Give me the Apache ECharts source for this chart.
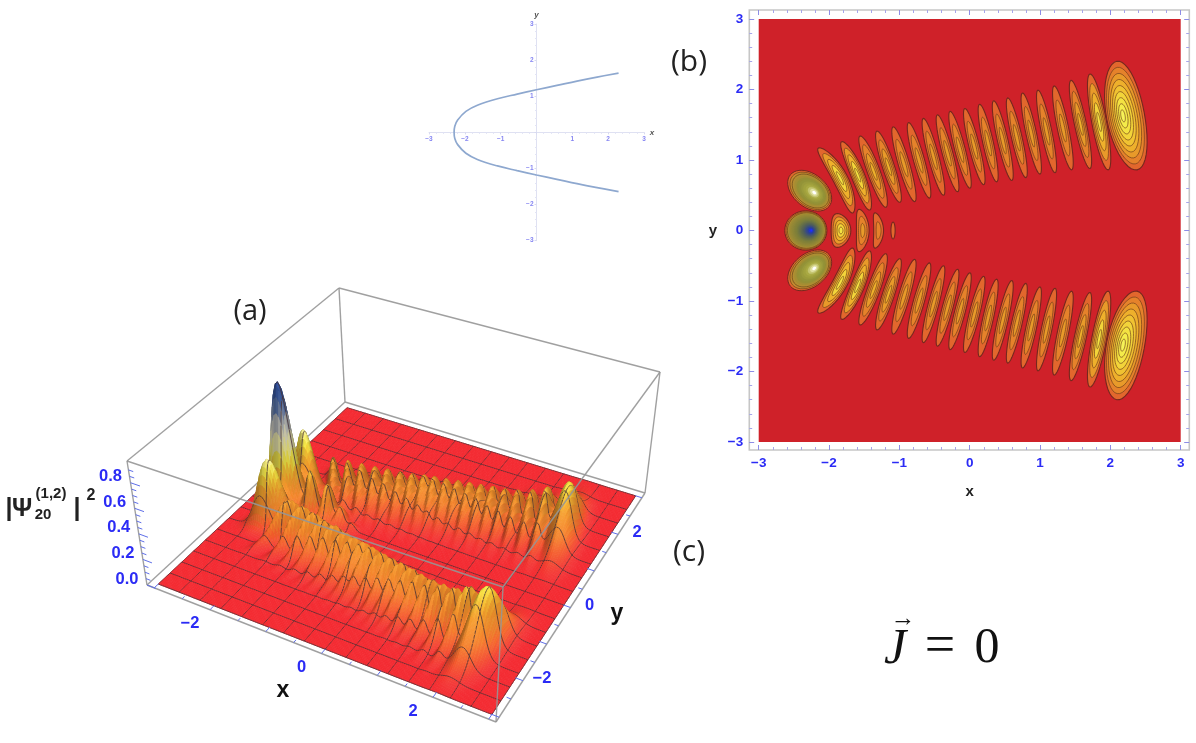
<!DOCTYPE html>
<html><head><meta charset="utf-8">
<style>html,body{margin:0;padding:0;background:#fff}#c{width:1196px;height:743px;filter:blur(.4px)}</style>
<script src="https://cdn.jsdelivr.net/npm/echarts@6/dist/echarts.min.js"></script></head>
<body><div id="c"></div>
<script>
/* ---- values: each lobe of the density, in x / y units ---- */
const lobeX0  = [-2.15,-1.82,-1.56,-1.32,-1.09,-.87,-.66,-.46,-.28,-.07,.14,.34,.54,.75,.97,1.20,1.44,1.71,2.09, -2.55, -1.88,-1.57,-1.345,-1.09,-2.33];
const lobeY0  = [1.17,1.26,1.34,1.41,1.47,1.53,1.59,1.64,1.69,1.73,1.79,1.84,1.88,1.95,1.99,2.05,2.13,2.22,2.40, .79, .24,.30,.25,.12,.28];
const lobeX1  = [-1.66,-1.42,-1.19,-.99,-.78,-.57,-.37,-.17,.005,.20,.385,.60,.80,1.00,1.215,1.45,1.71,1.97,2.38, -2.00, -1.88,-1.57,-1.345,-1.09,-2.33];
const lobeY1  = [.25,.29,.33,.40,.41,.46,.50,.55,.60,.65,.69,.71,.75,.80,.82,.86,.88,.86,.86, .34, -.24,-.30,-.25,-.12,-.28];
const lobeW   = [.105,.095,.09,.085,.08,.078,.075,.075,.075,.075,.075,.075,.075,.075,.075,.08,.085,.105,.27, .235, .14,.09,.07,.03,.30];
const lobeH   = [.30,.30,.29,.28,.28,.27,.27,.27,.27,.27,.27,.27,.27,.27,.27,.28,.30,.34,.42, .52, .36,.30,.15,.05,1.02];
const lobeN   = [5,5,4,4,3,3,3,3,3,3,3,3,3,3,3,3,4,5,9, 12, 5,3,2,1,20];
const lobeBend= [.07,.03,.01,0,0,0,0,0,0,0,0,0,0,0,0,0,0,0,-.02, 0, .05,.05,.05,0,0];
const lobeTone= [0,0,0,0,0,0,0,0,0,0,0,0,0,0,0,0,0,0,0, 1, 0,0,0,0,2];
const lobeFx  = [0,0,0,0,0,0,0,0,0,0,0,0,0,0,0,0,0,0,-.04, .07, 0,0,0,0,.08];
const lobeFy  = [0,0,0,0,0,0,0,0,0,0,0,0,0,0,0,0,0,0,0, -.03, 0,0,0,0,0];
/* parabola of panel (c), upper branch, x then y */
const curveX = [2.29,1.69,1.13,.57,0,-.54,-1.09,-1.65,-1.97,-2.2,-2.28,-2.3];
const curveY = [1.64,1.53,1.42,1.30,1.18,1.06,.93,.75,.58,.34,.17,0];
/* tick labels of the 3-D box */
const xyTickLabels = [-2,0,2];
const zTickLabels  = [0,.2,.4,.6,.8];

const bandColors=['#e2672d','#e5822b','#e89a2a','#eeb02c','#f0c232','#f2d43a','#f3e242','#f4ec4a','#f6f258'];
const centerStops=[[0,'#e2672d'],[.06,'#c98a30'],[.14,'#a08c34'],[.45,'#7c7f3a'],[.72,'#4f5f5a'],[.9,'#2a3fa0'],[1,'#2030ff']];
const sideStops=[[0,'#e2672d'],[.1,'#c08c30'],[.4,'#8f8f36'],[.72,'#a8a840'],[.9,'#dcdc98'],[1,'#ffffff']];
const surfStops=[[0,'#f42b32'],[.06,'#f4522c'],[.15,'#f5822c'],[.28,'#f6a02e'],[.36,'#f8c836'],[.42,'#fbee48'],[.53,'#f9f4a8'],[.63,'#e2dfce'],[.73,'#a8aeb8'],[.85,'#4f6fae'],[1,'#2a4b9c'],[1.1,'#1a2f80']];
function hex(c){return [1,3,5].map(i=>parseInt(c.substr(i,2),16));}
function ramp(st,t){
  if(t<=st[0][0])return hex(st[0][1]);
  for(let i=1;i<st.length;i++)if(t<=st[i][0]){
    const a=hex(st[i-1][1]),b=hex(st[i][1]),f=(t-st[i-1][0])/(st[i][0]-st[i-1][0]);
    return a.map((v,k)=>v+(b[k]-v)*f);}
  return hex(st[st.length-1][1]);
}
const css=c=>'rgb('+c.map(v=>Math.max(0,Math.min(255,Math.round(v)))).join(',')+')';

/* lobe geometry */
const lobes=lobeX0.map((_,i)=>{
  const dx=lobeX1[i]-lobeX0[i],dy=lobeY1[i]-lobeY0[i],L=Math.hypot(dx,dy);
  return {cx:(lobeX0[i]+lobeX1[i])/2,cy:(lobeY0[i]+lobeY1[i])/2,hl:L/2,ax:dx/L,ay:dy/L,px:-dy/L,py:dx/L,
          hw:lobeW[i],h:lobeH[i],n:lobeN[i],bend:lobeBend[i],tone:lobeTone[i],fx:lobeFx[i],fy:lobeFy[i],
          onAxis:Math.abs(lobeY0[i]+lobeY1[i])<1e-6};
});
/* contour rings, lowest level first */
const rings=[];
lobes.forEach((l,i)=>{for(let k=0;k<l.n;k++){rings.push([i,k,1]); if(!l.onAxis)rings.push([i,k,-1]);}});
rings.sort((a,b)=>a[1]-b[1]);
function ringStyle(l,k){
  if(l.tone===0){const idx=l.n===5?Math.round(k*1.6):k;
    return {fill:bandColors[Math.min(idx,8)],stroke:k===0?'#75281e':'rgba(110,60,25,.75)',lineWidth:k===0?1.1:.9};}
  const c=css(ramp(l.tone===2?centerStops:sideStops,k/(l.n-1)));
  return {fill:c,stroke:k<3?(k===0?'#75281e':'rgba(90,60,20,.6)'):c,lineWidth:k<3?1:.2};
}
function renderRing(p,api){
  const l=lobes[api.value(0)],k=api.value(1),sg=api.value(2),pts=[];
  const s=1-k/l.n,mv=1-s;
  for(let a=0;a<44;a++){
    const th=a/44*2*Math.PI,t=Math.cos(th)*s,d=Math.sin(th)*s*l.hw;
    const off=d+l.bend*(1-t*t),al=t*l.hl;
    pts.push(api.coord([l.cx+l.fx*mv+l.ax*al+l.px*off,sg*(l.cy+l.fy*mv+l.ay*al+l.py*off)]));
  }
  return {type:'polygon',shape:{points:pts},style:ringStyle(l,k)};
}

/* ---- 3-D box projection ---- */
const R=3.13,ZT=.97;
const BOT=[[147,585],[496,722],[645,493],[345,402]],TOP=[[127,461],[503,587],[660,372],[339,288]];
function bil(q,u,v,k){return (1-v)*((1-u)*q[0][k]+u*q[1][k])+v*((1-u)*q[3][k]+u*q[2][k]);}
function proj(x,y,z){
  const u=(x+R)/(2*R),v=(y+R)/(2*R),w=z/ZT;
  return [0,1].map(k=>(1-w)*bil(BOT,u,v,k)+w*bil(TOP,u,v,k));
}
/* surface points: nearer rows rise a little more, as in the perspective view */
function projS(x,y,z){const v=(y+R)/(2*R);return proj(x,y,z*(1.16-.32*v));}
function height(x,y){
  let f=0;
  for(const l of lobes){
    const sy=l.onAxis?[1]:[1,-1];
    for(const s of sy){
      const rx=x-l.cx,ry=s*y-l.cy,al=rx*l.ax+ry*l.ay;
      if(Math.abs(al)>l.hl*3)continue;
      const t=al/l.hl,d=rx*l.px+ry*l.py-l.bend*(1-Math.min(t*t,1));
      const sa=l.hl*.55,sb=Math.max(.065,l.hw*.55);
      f+=l.h*Math.exp(-(al*al)/(2*sa*sa)-(d*d)/(2*sb*sb));
    }
  }
  return f;
}
const N=160,ST=6/N,Z=[];
for(let j=0;j<=N+2;j++){Z.push([]);for(let i=0;i<=N+2;i++)Z[j].push(height(-3+(i-1)*ST,-3+(j-1)*ST));}
const quads=[];
const Lg=[.42,-.28,.86],Lz=Lg[2];
for(let j=N-1;j>=0;j--)for(let i=0;i<N;i++){
  const zz=(a,b)=>Z[b+1][a+1];
  const x=-3+i*ST,y=-3+j*ST;
  const pts=[projS(x,y,zz(i,j)),projS(x+ST,y,zz(i+1,j)),projS(x+ST,y+ST,zz(i+1,j+1)),projS(x,y+ST,zz(i,j+1))];
  const zc=(zz(i,j)+zz(i+1,j)+zz(i+1,j+1)+zz(i,j+1))/4;
  const K=1.3,gx=K*(zz(i+1,j)+zz(i+1,j+1)-zz(i,j)-zz(i,j+1))/(2*ST),gy=K*(zz(i,j+1)+zz(i+1,j+1)-zz(i,j)-zz(i+1,j))/(2*ST);
  const nl=Math.hypot(gx,gy,1),dot=(-gx*Lg[0]-gy*Lg[1]+Lg[2])/nl;
  const sh=Math.max(.55,Math.min(1.04,dot/Lz));
  const base=ramp(surfStops,zc);
  const col=css(sh<=1?base.map(v=>v*(.3+.7*sh)):base.map(v=>v+(255-v)*(sh-1)));
  const m=[];
  if((j+1)%10===0)m.push([pts[3],pts[2]]);
  if(j===0)m.push([pts[0],pts[1]]);
  if(i%10===0)m.push([pts[0],pts[3]]);
  if(i===N-1)m.push([pts[1],pts[2]]);
  quads.push({pts,col,m});
}
function renderQuad(p){
  const q=quads[p.dataIndex];
  const poly={type:'polygon',shape:{points:q.pts},style:{fill:q.col,stroke:q.col,lineWidth:.7}};
  if(!q.m.length)return poly;
  return {type:'group',children:[poly].concat(q.m.map(s=>({type:'polyline',shape:{points:s},style:{fill:null,stroke:'rgba(70,50,54,.8)',lineWidth:1}})))};
}
/* box edges */
const BOXC={a:[-R,-R,0],b:[R,-R,0],c:[R,R,0],d:[-R,R,0],A:[-R,-R,ZT],B:[R,-R,ZT],C:[R,R,ZT],D:[-R,R,ZT]};
const backEdges=['ad','dc','dD','aA','AD','DC','cC'];
const frontEdges=['ab','bc','bB','AB','BC'];
function edgeSeries(list,z){
  return {type:'custom',coordinateSystem:'none',silent:true,z:z,data:list.map((e,i)=>[i]),
    renderItem(p){const e=list[p.dataIndex];
      return {type:'line',shape:{x1:proj(...BOXC[e[0]])[0],y1:proj(...BOXC[e[0]])[1],x2:proj(...BOXC[e[1]])[0],y2:proj(...BOXC[e[1]])[1]},
        style:{stroke:'rgba(150,150,150,.9)',lineWidth:1.4}};}};
}
/* ticks of the box */
const tks=[];
for(let k=-6;k<=6;k++){const v=k/2,maj=k%2===0,len=maj?.14:.08;
  tks.push([proj(v,-R,0),proj(v,-R+len,0)]);tks.push([proj(R,v,0),proj(R-len,v,0)]);}
for(let k=0;k<=18;k++){const v=k*.05,len=k%4===0?.16:.08;tks.push([proj(-R,-R,v),proj(-R+len,-R,v)]);}
const boxLabels=[];
xyTickLabels.forEach(v=>{
  const a=proj(v,-R,0);boxLabels.push([a[0]-20,a[1]+14,String(v).replace('-','\u2212')]);
  const b=proj(R,v,0);boxLabels.push([b[0]+19,b[1]-2,String(v).replace('-','\u2212')]);
});
zTickLabels.forEach(v=>{const a=proj(-R,-R,v);boxLabels.push([a[0]-20,a[1]-6,v.toFixed(1)]);});

const minus=v=>String(v).replace('-','\u2212');
const BLUE='#2b2bf5';
function axisB(idx,pos,off,labels,extra){
  return Object.assign({type:'value',gridIndex:0,position:pos,offset:off,min:-3,max:3,interval:1,
    axisLine:{show:false,onZero:false},
    axisTick:{show:true,inside:true,length:5,lineStyle:{color:'#8d8de6',width:1}},
    minorTick:{show:true,splitNumber:5,length:3,lineStyle:{color:'#a6a6ea',width:1}},
    splitLine:{show:false},minorSplitLine:{show:false},
    axisLabel:{show:labels,color:BLUE,fontWeight:'bold',fontSize:13.5,fontFamily:'Liberation Sans',margin:6,formatter:minus}},extra||{});
}
function axisC(name,pos,off){
  return {type:'value',gridIndex:2,min:-3,max:3,interval:1,name:name,nameLocation:'end',position:pos,offset:off,
    nameTextStyle:{color:'#555',fontStyle:'italic',fontSize:8,fontWeight:'bold'},nameGap:5,
    axisLine:{show:true,onZero:false,lineStyle:{color:'#dfe1f2',width:1}},
    axisTick:{show:true,length:2,lineStyle:{color:'#d8daf0'}},
    minorTick:{show:true,splitNumber:5,length:1.5,lineStyle:{color:'#e2e4f5'}},
    splitLine:{show:false},minorSplitLine:{show:false},
    axisLabel:{color:'#8686f2',fontSize:6.5,fontWeight:'bold',margin:3,fontFamily:'Liberation Sans',
      formatter:v=>v===0?'':minus(v)}};
}
const upper=curveX.map((x,i)=>[x,curveY[i]]);
const lower=curveX.slice(0,-1).reverse().map((x,i)=>[x,-curveY[curveX.length-2-i]]);
const texts=[
 ['(a)',250,312,29,'normal','normal','Open Sans','#222'],
 ['(b)',689,62,30,'normal','normal','Open Sans','#222'],
 ['(c)',689,552,30,'normal','normal','Open Sans','#222'],
 ['x',283,691,23,'bold','normal','Liberation Sans','#111'],
 ['y',617,614,23,'bold','normal','Liberation Sans','#111'],
 ['|',9,509,25,'bold','normal','Liberation Sans','#222'],
 ['\u03A8',22,509,25,'bold','normal','Liberation Sans','#222'],
 ['(1,2)',51,494,15,'bold','normal','Liberation Sans','#222'],
 ['20',43,515,15,'bold','normal','Liberation Sans','#222'],
 ['|',77,509,25,'bold','normal','Liberation Sans','#222'],
 ['2',91,496,16,'bold','normal','Liberation Sans','#222'],
 ['J',895,650,50,'normal','italic','Liberation Serif','#111'],
 ['\u2192',903,619,25,'normal','normal','Liberation Serif','#111'],
 ['=',940,648,54,'normal','normal','Liberation Serif','#111'],
 ['0',987,649,50,'normal','normal','Liberation Serif','#111']
];
const option={
  animation:false,backgroundColor:'#fff',
  grid:[
    {left:758.7,top:19,width:422,height:423,show:true,backgroundColor:'#cf2129',borderWidth:0},
    {left:749.3,top:10,width:440,height:440,show:true,backgroundColor:'transparent',borderColor:'#c6c6c6',borderWidth:1.6},
    {left:429,top:24,width:215,height:216.7}
  ],
  xAxis:[
    axisB(0,'bottom',8,true,{name:'x',nameLocation:'middle',nameGap:34,nameTextStyle:{color:'#222',fontWeight:'bold',fontSize:15,fontFamily:'Liberation Sans'}}),
    axisB(1,'top',9,false),
    {type:'value',gridIndex:1,show:false,min:0,max:1},
    axisC('x','bottom',-108.3)
  ],
  yAxis:[
    axisB(0,'left',9.5,true,{name:'y',nameLocation:'middle',nameGap:32,nameRotate:0,nameTextStyle:{color:'#222',fontWeight:'bold',fontSize:15,fontFamily:'Liberation Sans'}}),
    axisB(1,'right',8.5,false),
    {type:'value',gridIndex:1,show:false,min:0,max:1},
    axisC('y','left',-107.5)
  ],
  graphic:{elements:texts.map(t=>({type:'text',x:t[1],y:t[2],z:50,silent:true,
    style:{text:t[0],fontSize:t[3],fontWeight:t[4],fontStyle:t[5],fontFamily:t[6],fill:t[7],align:'center',verticalAlign:'middle'}}))},
  series:[
    {type:'custom',name:'contours',xAxisIndex:0,yAxisIndex:0,data:rings,renderItem:renderRing,silent:true,clip:true,z:3},
    {type:'line',name:'curve',xAxisIndex:3,yAxisIndex:3,data:upper.concat(lower),smooth:.4,showSymbol:false,silent:true,
      lineStyle:{color:'#8ea8cf',width:1.7},z:3},
    edgeSeries(backEdges,2),
    {type:'custom',name:'surface',coordinateSystem:'none',data:quads.map((q,i)=>[i]),renderItem:renderQuad,silent:true,z:4,progressive:0},
    edgeSeries(frontEdges,6),
    {type:'custom',name:'boxTicks',coordinateSystem:'none',silent:true,z:7,data:tks.map((q,i)=>[i]),
      renderItem(p){const t=tks[p.dataIndex];return {type:'line',shape:{x1:t[0][0],y1:t[0][1],x2:t[1][0],y2:t[1][1]},style:{stroke:'#5f6fe8',lineWidth:1}};}},
    {type:'custom',name:'boxLabels',coordinateSystem:'none',silent:true,z:7,data:boxLabels.map((q,i)=>[i]),
      renderItem(p){const t=boxLabels[p.dataIndex];return {type:'text',x:t[0],y:t[1],style:{text:t[2],fill:BLUE,fontSize:16.5,fontWeight:'bold',fontFamily:'Liberation Sans',align:'center',verticalAlign:'middle'}};}}
  ]
};
const chart=echarts.init(document.getElementById('c'),null,{renderer:'canvas',devicePixelRatio:1});
chart.setOption(option);
</script></body></html>
